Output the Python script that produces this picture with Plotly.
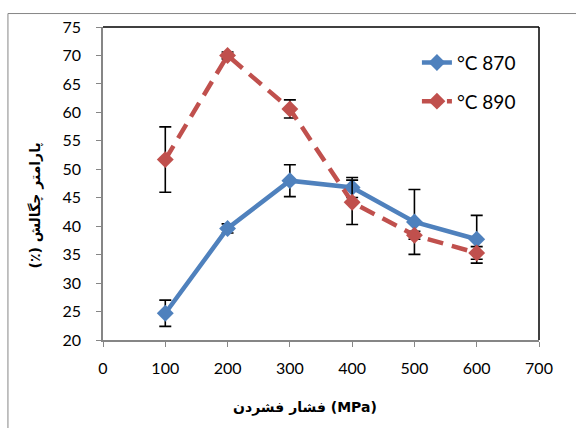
import plotly.graph_objects as go

# Compaction pressure (MPa)
pressure = [100, 200, 300, 400, 500, 600]

# Densification parameter (%) at two sintering temperatures
dens_870 = [24.7, 39.6, 48.0, 46.8, 40.75, 37.7]
err_870 = [2.3, 0.8, 2.8, 1.75, 5.7, 4.2]

dens_890 = [51.7, 70.0, 60.6, 44.2, 38.4, 35.3]
err_890 = [5.75, 0.6, 1.6, 3.9, 0.7, 1.1]

names = ["°C 870", "°C 890"]
x_ticks = [0, 100, 200, 300, 400, 500, 600, 700]
y_ticks = [20, 25, 30, 35, 40, 45, 50, 55, 60, 65, 70, 75]

BLUE = "#4F81BD"
RED = "#C0504D"
GRAY = "#868686"
TICK_FONT = dict(family="Lato", size=16, color="#000000")

fig = go.Figure()

fig.add_trace(go.Scatter(
    x=pressure, y=dens_870, name=names[0], mode="lines+markers",
    line=dict(color=BLUE, width=4.5),
    marker=dict(symbol="diamond", size=13, color=BLUE),
    error_y=dict(type="data", array=err_870, color="#000000",
                 thickness=1.6, width=6),
    legendgroup="a",
))
fig.add_trace(go.Scatter(
    x=pressure, y=dens_890, name=names[1], mode="lines+markers",
    line=dict(color=RED, width=4.5, dash="16px,9px"),
    marker=dict(symbol="diamond", size=13, color=RED),
    error_y=dict(type="data", array=err_890, color="#000000",
                 thickness=1.6, width=6),
    legendgroup="b",
))

fig.update_xaxes(
    range=[0, 700], tickvals=x_ticks, ticktext=[str(v) for v in x_ticks],
    showgrid=False, zeroline=False, showline=True, linecolor=GRAY, linewidth=1.5,
    ticks="outside", ticklen=5, tickcolor=GRAY, tickwidth=1.2,
    tickfont=TICK_FONT, ticklabelstandoff=8,
)
fig.update_yaxes(
    range=[20, 75], tickvals=y_ticks, ticktext=[str(v) for v in y_ticks],
    showgrid=False, zeroline=False, showline=True, linecolor=GRAY, linewidth=1.5,
    ticks="outside", ticklen=5, tickcolor=GRAY, tickwidth=1.2,
    tickfont=TICK_FONT, ticklabelstandoff=12,
)

shapes = [
    # plot area frame (top and right edges)
    dict(type="line", xref="paper", yref="paper", x0=0, x1=1, y0=1, y1=1,
         line=dict(color="#000000", width=1.5)),
    dict(type="line", xref="paper", yref="paper", x0=1, x1=1, y0=0, y1=1,
         line=dict(color="#000000", width=1.5)),
    # outer chart border
    dict(type="line", xref="paper", yref="paper", x0=-0.218, x1=1.2,
         y0=1.043, y1=1.043, line=dict(color=GRAY, width=1)),
    dict(type="line", xref="paper", yref="paper", x0=-0.218, x1=-0.218,
         y0=1.043, y1=-0.5, line=dict(color=GRAY, width=1)),
]

annotations = [
    dict(text="<b>فشار فشردن (MPa)</b>", xref="paper", yref="paper",
         x=0.463, y=-0.217, showarrow=False, xanchor="center", yanchor="middle",
         font=dict(family="DejaVu Sans", size=14, color="#000000")),
    dict(text="<b>\u202bپارامتر چگالش (٪)\u202c</b>", xref="paper", yref="paper",
         x=-0.156, y=0.43, showarrow=False, textangle=-90,
         xanchor="center", yanchor="middle",
         font=dict(family="DejaVu Sans", size=14, color="#000000")),
]

fig.update_layout(
    width=576, height=428,
    margin=dict(l=103, r=37, t=26.5, b=88),
    paper_bgcolor="#FFFFFF", plot_bgcolor="#FFFFFF",
    showlegend=True,
    legend=dict(x=0.72, y=0.947, xanchor="left", yanchor="top",
                bgcolor="rgba(0,0,0,0)", traceorder="grouped",
                tracegroupgap=11, font=dict(family="Lato", size=19, color="#000000")),
    shapes=shapes,
    annotations=annotations,
)

fig.write_html("out.html")
